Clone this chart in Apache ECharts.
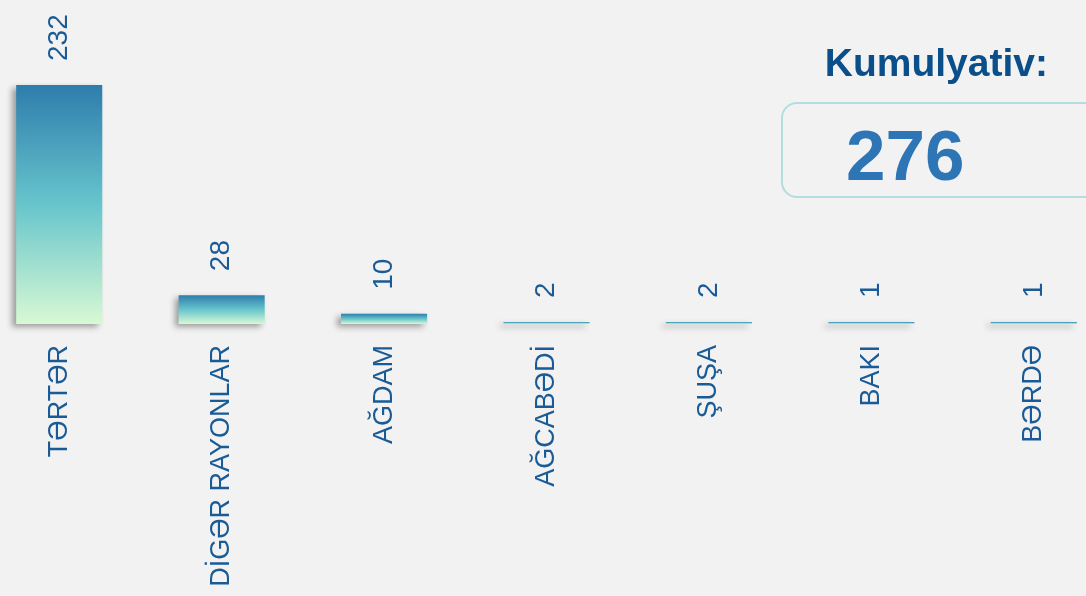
<!DOCTYPE html>
<html>
<head>
<meta charset="utf-8">
<script src="https://cdn.jsdelivr.net/npm/echarts@6/dist/echarts.min.js"></script>
<style>
  html, body { margin: 0; padding: 0; background: #f2f2f2; }
  #chart { width: 1086px; height: 596px; }
</style>
</head>
<body>
<div id="chart"></div>
<script>
// data
const categories = ['TƏRTƏR', 'DİGƏR RAYONLAR', 'AĞDAM', 'AĞCABƏDİ', 'ŞUŞA', 'BAKI', 'BƏRDƏ'];
const values = [232, 28, 10, 2, 2, 1, 1];
const totalLabel = 'Kumulyativ:';
const totalValue = 276;

const textColor = '#1a5b96';
const chart = echarts.init(document.getElementById('chart'));

const option = {
    backgroundColor: '#f2f2f2',
    animation: false,
    grid: {
        left: -22,
        right: -29,
        top: 85,
        bottom: 272,
        outerBoundsMode: 'none',
        containLabel: false
    },
    xAxis: {
        type: 'category',
        data: categories,
        axisLine: { show: false },
        axisTick: { show: false },
        axisLabel: {
            interval: 0,
            rotate: 90,
            margin: 21,
            color: textColor,
            fontSize: 27,
            fontFamily: 'Liberation Sans, Arial, sans-serif'
        }
    },
    yAxis: {
        type: 'value',
        min: 0,
        max: 232,
        show: false,
        splitLine: { show: false }
    },
    series: [
        {
            type: 'bar',
            barWidth: '53%',
            barMinHeight: 2,
            data: values,
            itemStyle: {
                color: new echarts.graphic.LinearGradient(0, 0, 0, 1, [
                    { offset: 0, color: '#2e7dac' },
                    { offset: 0.5, color: '#67c5cc' },
                    { offset: 1, color: '#d8f9d3' }
                ]),
                shadowColor: 'rgba(0,0,0,0.35)',
                shadowBlur: 6,
                shadowOffsetX: -4,
                shadowOffsetY: 3
            },
            label: {
                show: true,
                position: 'top',
                distance: 24,
                rotate: 90,
                align: 'left',
                verticalAlign: 'middle',
                color: textColor,
                fontSize: 28,
                fontFamily: 'Liberation Sans, Arial, sans-serif'
            }
        }
    ],
    graphic: [
        {
            type: 'text',
            right: 38,
            top: 46,
            style: {
                text: totalLabel,
                fill: '#0b4f8a',
                font: 'bold 39px "Liberation Sans", Arial, sans-serif'
            }
        },
        {
            type: 'rect',
            shape: { x: 782, y: 103, width: 320, height: 94, r: 15 },
            style: { fill: 'none', stroke: '#b4dde0', lineWidth: 2 }
        },
        {
            type: 'text',
            left: 846,
            top: 125,
            style: {
                text: String(totalValue),
                fill: '#2e75b6',
                font: 'bold 71px "Liberation Sans", Arial, sans-serif'
            }
        }
    ]
};

chart.setOption(option);
</script>
</body>
</html>
